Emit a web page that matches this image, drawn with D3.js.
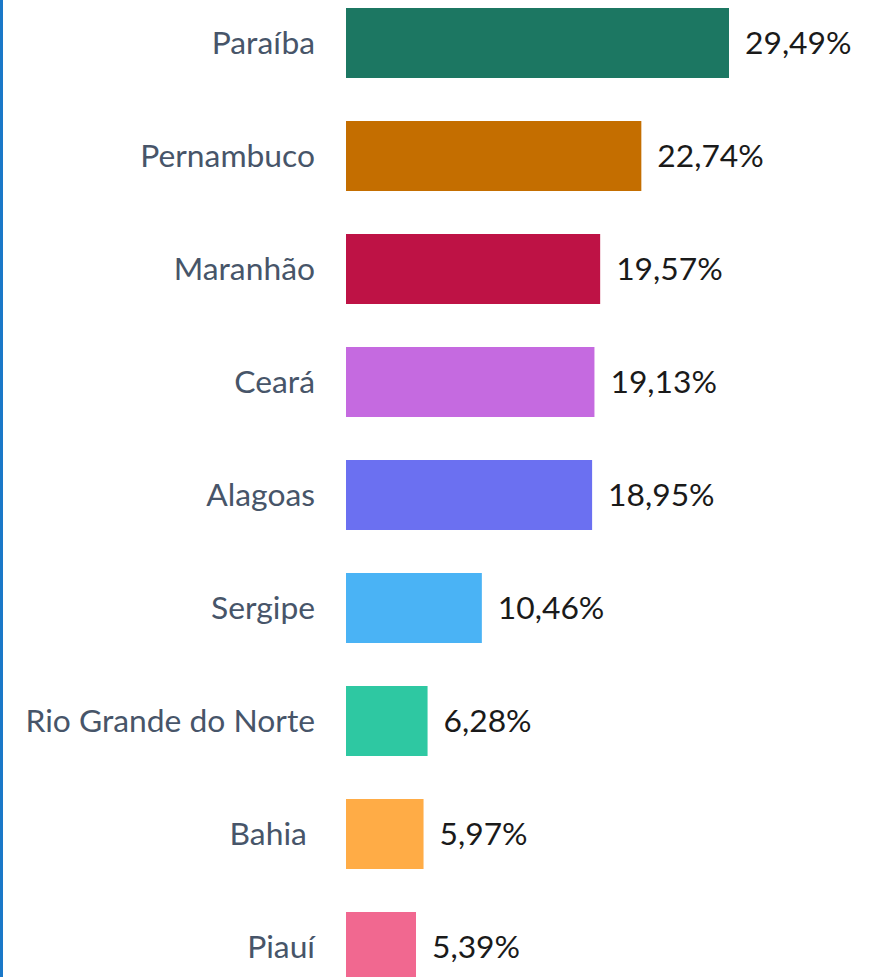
<!DOCTYPE html>
<html><head><meta charset="utf-8">
<script src="https://cdn.jsdelivr.net/npm/d3@7"></script>
<style>html,body{margin:0;padding:0;background:#fff;overflow:hidden} text{white-space:pre}</style>
</head><body>
<script>
const categories = ["Paraíba","Pernambuco","Maranhão","Ceará","Alagoas","Sergipe","Rio Grande do Norte","Bahia ","Piauí"];
const values = [29.49,22.74,19.57,19.13,18.95,10.46,6.28,5.97,5.39];
const colors = ["#1c7762","#c46e00","#be1245","#c56ae0","#6b70f1","#4ab3f5","#2ec8a2","#ffac46","#f16890"];

const W = 879, H = 977;
const svg = d3.select("body").append("svg").attr("width", W).attr("height", H);

svg.append("rect").attr("x",0).attr("y",0).attr("width",3).attr("height",H).attr("fill","#1a78c8");

const step = 113, bw = 70;
const y = d3.scaleBand().domain(categories)
  .range([8, 8 + step*(categories.length-1) + bw])
  .paddingInner(1 - bw/step).paddingOuter(0);
const x = d3.scaleLinear().domain([0, d3.max(values)]).range([346, 729]);

const g = svg.append("g");
const data = categories.map((c,i)=>({c, v: values[i], col: colors[i]}));

g.selectAll("rect.bar").data(data).join("rect").attr("class","bar")
  .attr("x", x(0)).attr("y", d=>y(d.c))
  .attr("width", d=>x(d.v)-x(0)).attr("height", y.bandwidth())
  .attr("fill", d=>d.col);

const fs = 31.8;
g.selectAll("text.cat").data(data).join("text").attr("class","cat")
  .attr("x", 315).attr("y", d=>y(d.c)+y.bandwidth()/2 + fs*0.355)
  .attr("text-anchor","end")
  .attr("font-family","Lato, sans-serif").attr("font-size", fs)
  .attr("fill","#475569")
  .text(d=>d.c);

g.selectAll("text.val").data(data).join("text").attr("class","val")
  .attr("x", d=>x(d.v)+16).attr("y", d=>y(d.c)+y.bandwidth()/2 + fs*0.355)
  .attr("font-family","Lato, sans-serif").attr("font-size", fs)
  .attr("fill","#1a1a1a")
  .text(d=>d.v.toFixed(2).replace(".",",")+"%");
</script>
</body></html>
